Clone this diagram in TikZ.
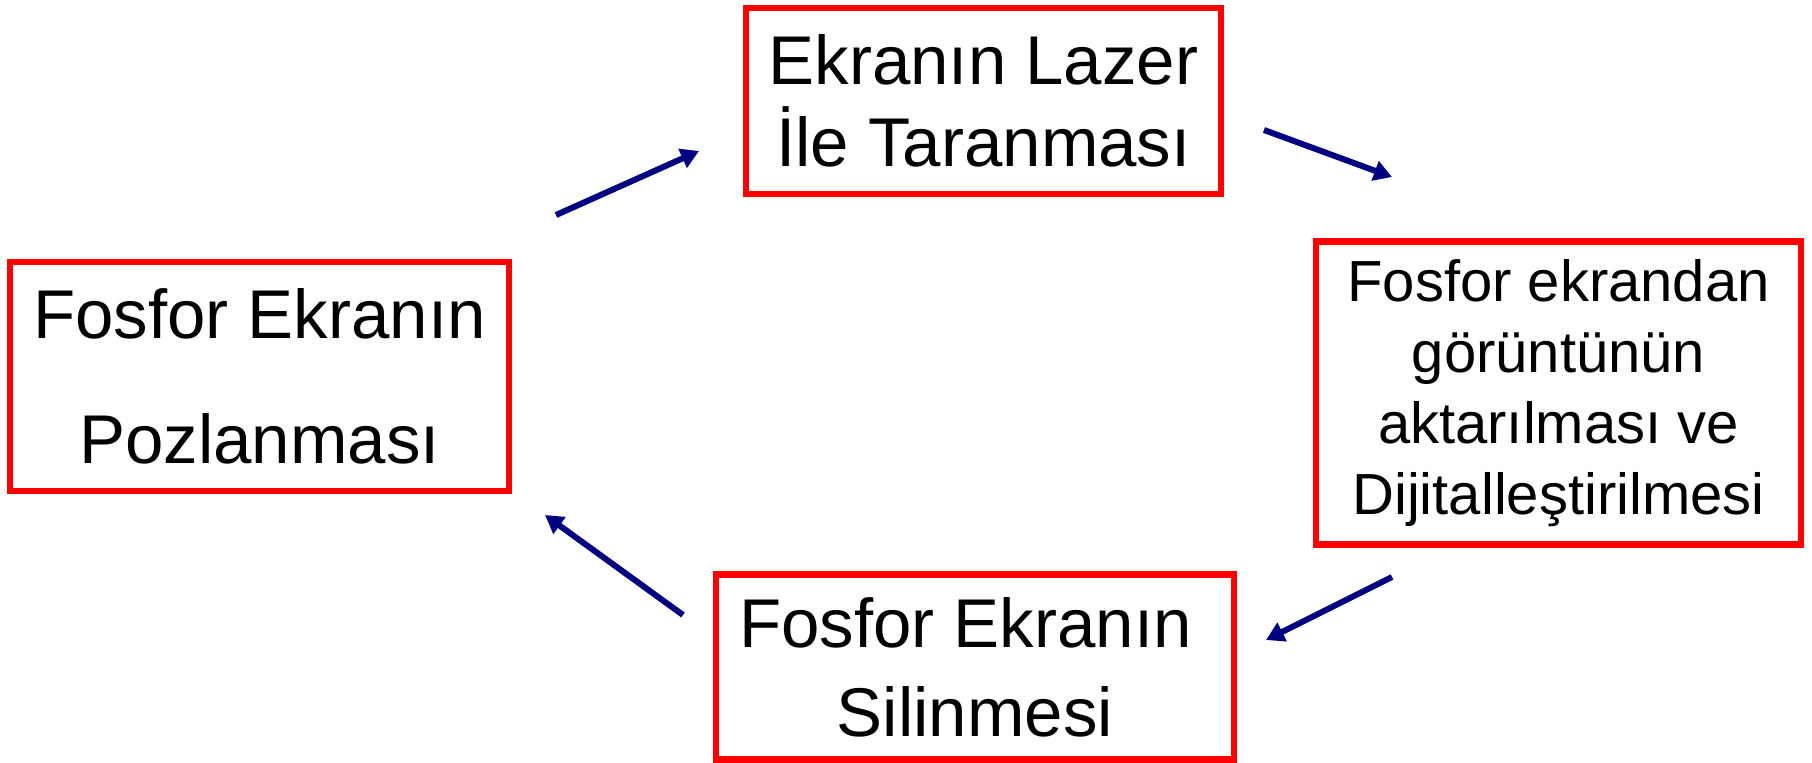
\documentclass[tikz,border=0pt]{standalone}
\usepackage{fontspec}
\setmainfont{Liberation Sans}
\usetikzlibrary{arrows.meta}
\definecolor{boxred}{RGB}{255,0,0}
\definecolor{arrownavy}{RGB}{0,0,128}
\tikzset{
  stagebox/.style={draw=boxred, line width=3.25pt, rectangle, inner sep=0pt, align=center, text=black},
  bigtext/.style={font=\fontsize{34.5}{#1}\selectfont},
  flowarrow/.style={draw=arrownavy, line width=3pt, -{Triangle[length=9pt,width=10pt]}}
}
\begin{document}
\begin{tikzpicture}[x=0.5pt,y=-0.5pt]
\useasboundingbox (0,0) rectangle (1812,762);
\node[stagebox, bigtext=62.5pt, minimum width=249.5pt, minimum height=114.5pt] (expo) at (259.5,376.5) {Fosfor Ekranın\\Pozlanması};
\node[stagebox, bigtext=41pt, minimum width=237.5pt, minimum height=93pt] (scan) at (983.5,101) {Ekranın Lazer\\İle Taranması};
\node[stagebox, font=\fontsize{29}{35.5}\selectfont, minimum width=242.5pt, minimum height=151.5pt] (digit) at (1558.5,393) {Fosfor ekrandan\\görüntünün\\aktarılması ve\\Dijitalleştirilmesi};
\node[stagebox, bigtext=44.5pt, minimum width=259pt, minimum height=92.5pt] (erase) at (975,667) {Fosfor Ekranın\phantom{ }\\Silinmesi};
\coordinate (a1s) at (556,215);
\coordinate (a1e) at (699,151);
\coordinate (a2s) at (1264,130);
\coordinate (a2e) at (1392,177);
\coordinate (a3s) at (1392,577);
\coordinate (a3e) at (1266,640);
\coordinate (a4s) at (683,615);
\coordinate (a4e) at (545,515);
\draw[flowarrow] (a1s) -- (a1e);
\draw[flowarrow] (a2s) -- (a2e);
\draw[flowarrow] (a3s) -- (a3e);
\draw[flowarrow] (a4s) -- (a4e);
\end{tikzpicture}
\end{document}
